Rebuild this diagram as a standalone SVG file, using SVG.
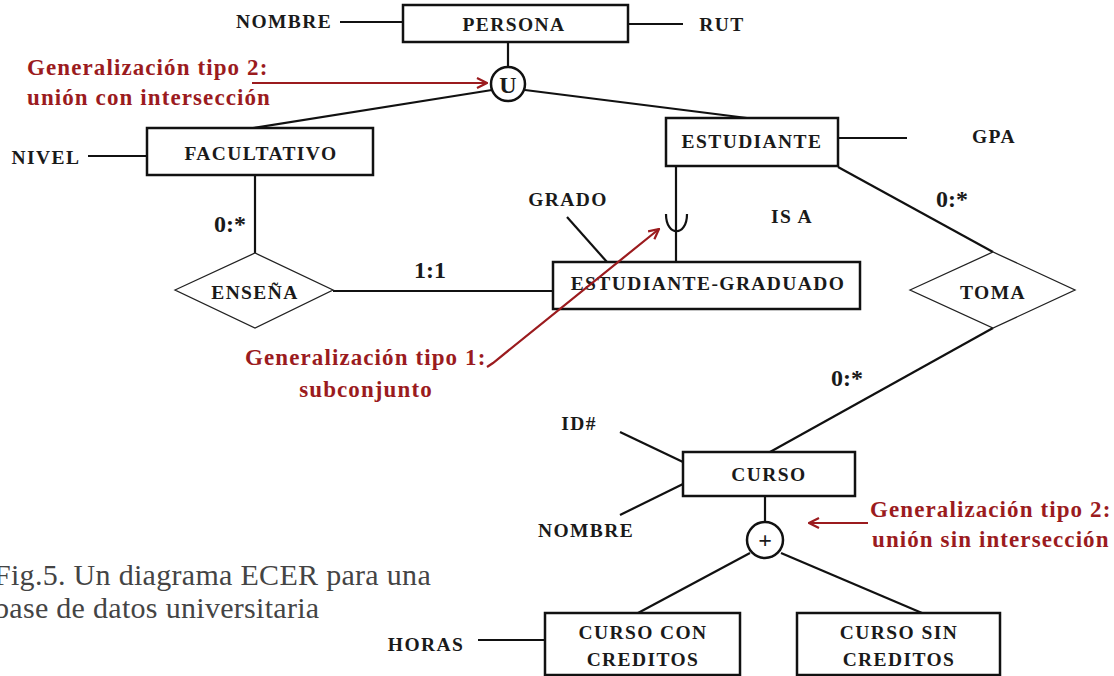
<svg xmlns="http://www.w3.org/2000/svg" width="1114" height="676" viewBox="0 0 1114 676">
<defs>
<style>
.box{fill:#fff;stroke:#111;stroke-width:2.5}
.dia{fill:#fff;stroke:#222;stroke-width:1.3}
.circ{fill:#fff;stroke:#111;stroke-width:2.5}
.ln{stroke:#111;stroke-width:2.2;fill:none}
.rl{stroke:#9b1b1e;stroke-width:2.2;fill:none}
.lab{font-family:"Liberation Serif","Times New Roman",serif;font-weight:bold;font-size:19.5px;fill:#1a1a1a;letter-spacing:1.4px}
.card{font-family:"Liberation Serif","Times New Roman",serif;font-weight:bold;font-size:24px;fill:#1a1a1a}
.red{font-family:"Liberation Serif","Times New Roman",serif;font-weight:bold;font-size:23px;fill:#9b1b1e;letter-spacing:1.1px}
.cap{font-family:"Liberation Serif","Times New Roman",serif;font-size:30px;fill:#444}
</style>
<marker id="arr" viewBox="0 0 12 12" refX="11" refY="6" markerWidth="12" markerHeight="12" markerUnits="userSpaceOnUse" orient="auto">
<path d="M1,1 L11,6 L1,11" fill="none" stroke="#9b1b1e" stroke-width="2.2"/>
</marker>
</defs>
<rect width="1114" height="676" fill="#fff"/>
<g id="connectors">
<line class="ln" x1="340" y1="22" x2="403" y2="22"/>
<line class="ln" x1="628" y1="24" x2="683" y2="24"/>
<line class="ln" x1="508" y1="42" x2="508" y2="67"/>
<line class="ln" x1="492" y1="90" x2="253" y2="128"/>
<line class="ln" x1="525" y1="90" x2="755" y2="119"/>
<line class="ln" x1="88" y1="156" x2="147" y2="156"/>
<line class="ln" x1="838" y1="138" x2="907" y2="138"/>
<line class="ln" x1="255" y1="175" x2="255" y2="253"/>
<line class="ln" x1="333" y1="291" x2="553" y2="291"/>
<line class="ln" x1="676" y1="166" x2="676" y2="262"/>
<path class="ln" d="M666,214 C666,237 687,237 687,214"/>
<line class="ln" x1="567" y1="217" x2="607" y2="262"/>
<line class="ln" x1="838" y1="167" x2="993" y2="252"/>
<line class="ln" x1="993" y1="328" x2="770" y2="452"/>
<line class="ln" x1="620" y1="432" x2="683" y2="462"/>
<line class="ln" x1="620" y1="515" x2="683" y2="484"/>
<line class="ln" x1="765" y1="496" x2="765" y2="522"/>
<line class="ln" x1="750" y1="553" x2="638" y2="613"/>
<line class="ln" x1="781" y1="553" x2="922" y2="613"/>
<line class="ln" x1="478" y1="640" x2="545" y2="640"/>
</g>
<g id="persona"><rect class="box" x="403" y="5" width="225" height="37"/><text class="lab" x="514" y="24" text-anchor="middle" dominant-baseline="central">PERSONA</text></g>
<g id="attr-nombre"><text class="lab" x="284" y="21" text-anchor="middle" dominant-baseline="central">NOMBRE</text></g>
<g id="attr-rut"><text class="lab" x="722" y="24" text-anchor="middle" dominant-baseline="central">RUT</text></g>
<g id="union1"><circle class="circ" cx="508" cy="84" r="17"/><text class="card" x="508" y="85" font-size="22" text-anchor="middle" dominant-baseline="central">U</text></g>
<g id="facultativo"><rect class="box" x="147" y="128" width="226" height="47"/><text class="lab" x="261" y="153" text-anchor="middle" dominant-baseline="central">FACULTATIVO</text></g>
<g id="attr-nivel"><text class="lab" x="46" y="157" text-anchor="middle" dominant-baseline="central">NIVEL</text></g>
<g id="estudiante"><rect class="box" x="666" y="118" width="172" height="48"/><text class="lab" x="752" y="141" text-anchor="middle" dominant-baseline="central">ESTUDIANTE</text></g>
<g id="attr-gpa"><text class="lab" x="994" y="136" text-anchor="middle" dominant-baseline="central">GPA</text></g>
<g id="attr-grado"><text class="lab" x="568" y="199" text-anchor="middle" dominant-baseline="central">GRADO</text></g>
<g id="isa"><text class="lab" x="792" y="216" text-anchor="middle" dominant-baseline="central">IS A</text></g>
<g id="ensena"><polygon class="dia" points="175,290 255,253 333,290 255,328"/><text class="lab" x="255" y="292" text-anchor="middle" dominant-baseline="central">ENSEÑA</text></g>
<g id="estudiante-graduado"><rect class="box" x="553" y="262" width="307" height="47"/><text class="lab" x="708" y="283" text-anchor="middle" dominant-baseline="central">ESTUDIANTE-GRADUADO</text></g>
<g id="toma"><polygon class="dia" points="910,290 993,252 1075,290 993,328"/><text class="lab" x="993" y="292" text-anchor="middle" dominant-baseline="central">TOMA</text></g>
<g id="curso"><rect class="box" x="683" y="452" width="172" height="44"/><text class="lab" x="769" y="474" text-anchor="middle" dominant-baseline="central">CURSO</text></g>
<g id="attr-id"><text class="lab" x="579" y="423" text-anchor="middle" dominant-baseline="central">ID#</text></g>
<g id="attr-nombre2"><text class="lab" x="586" y="530" text-anchor="middle" dominant-baseline="central">NOMBRE</text></g>
<g id="union2"><circle class="circ" cx="765" cy="540" r="18"/><text class="card" x="765" y="540" font-size="26" font-weight="normal" text-anchor="middle" dominant-baseline="central">+</text></g>
<g id="curso-con"><rect class="box" x="545" y="613" width="195" height="62"/><text class="lab" x="643" y="632" text-anchor="middle" dominant-baseline="central">CURSO CON</text><text class="lab" x="643" y="659" text-anchor="middle" dominant-baseline="central">CREDITOS</text></g>
<g id="curso-sin"><rect class="box" x="797" y="613" width="203" height="62"/><text class="lab" x="899" y="632" text-anchor="middle" dominant-baseline="central">CURSO SIN</text><text class="lab" x="899" y="659" text-anchor="middle" dominant-baseline="central">CREDITOS</text></g>
<g id="attr-horas"><text class="lab" x="426" y="644" text-anchor="middle" dominant-baseline="central">HORAS</text></g>
<g id="cardinalities">
<text class="card" x="230" y="224" text-anchor="middle" dominant-baseline="central">0:*</text>
<text class="card" x="430" y="270" text-anchor="middle" dominant-baseline="central">1:1</text>
<text class="card" x="952" y="199" text-anchor="middle" dominant-baseline="central">0:*</text>
<text class="card" x="847" y="378" text-anchor="middle" dominant-baseline="central">0:*</text>
</g>
<g id="annotation-connectors">
<line class="rl" x1="252" y1="83" x2="487" y2="83" marker-end="url(#arr)"/>
<polyline class="rl" points="487,367 493,363 659,229" marker-end="url(#arr)"/>
<line class="rl" x1="868" y1="523" x2="809" y2="523" marker-end="url(#arr)"/>
</g>
<g id="annotations">
<text class="red" x="27" y="67" dominant-baseline="central">Generalización tipo 2:</text>
<text class="red" x="27" y="97" dominant-baseline="central">unión con intersección</text>
<text class="red" x="245" y="357" dominant-baseline="central">Generalización tipo 1:</text>
<text class="red" x="366" y="389" text-anchor="middle" dominant-baseline="central">subconjunto</text>
<text class="red" x="870" y="509" dominant-baseline="central">Generalización tipo 2:</text>
<text class="red" x="872" y="539" dominant-baseline="central" letter-spacing="0.8">unión sin intersección</text>
</g>
<g id="caption">
<text class="cap" x="-6" y="585" letter-spacing="0.3">Fig.5. Un diagrama ECER para una</text>
<text class="cap" x="-6" y="618" letter-spacing="0.3">base de datos universitaria</text>
</g>
</svg>
